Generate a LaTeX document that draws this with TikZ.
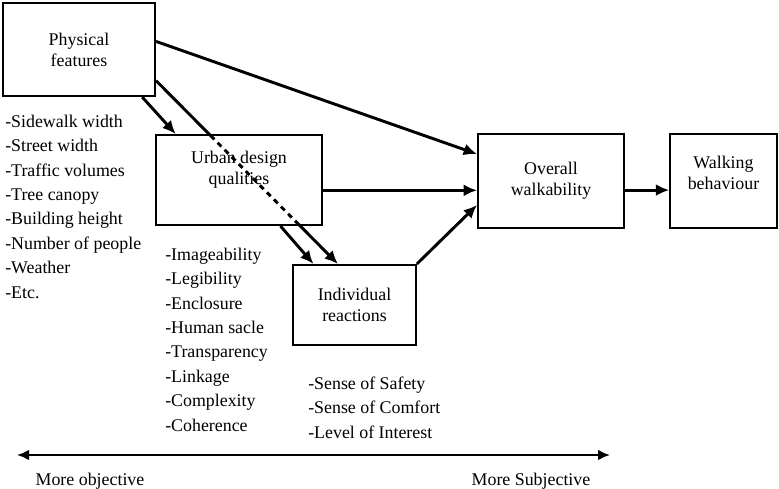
\documentclass[tikz,border=0pt]{standalone}
\usepackage{fontspec}
\setmainfont{Liberation Serif}
\usetikzlibrary{arrows.meta}
\tikzset{
  box/.style={draw,line width=1.5pt,align=center,inner sep=0pt,
    font=\fontsize{13.4}{15.8}\selectfont},
  items/.style={anchor=base west,align=left,inner sep=0pt,
    font=\fontsize{13.4}{18.3}\selectfont},
  flow/.style={line width=2.2pt,-{Latex[length=10pt,width=9pt]}},
  plain/.style={line width=2.2pt},
}
\begin{document}
\begin{tikzpicture}[x=0.75pt,y=-0.75pt]
\useasboundingbox (0,0) rectangle (779,489);
\node[box,minimum width=114pt,minimum height=70pt] at (79,49.5) (pf) {Physical\\features};
\node[box,minimum width=124.5pt,minimum height=67.5pt,text depth=18pt] at (239,180) (ud) {Urban design\\qualities};
\node[box,minimum width=92pt,minimum height=60pt] at (354.5,305) (ir) {Individual\\reactions};
\node[box,minimum width=109.5pt,minimum height=70.5pt] at (551,181) (ow) {Overall\\walkability};
\node[box,minimum width=80pt,minimum height=70.5pt,text depth=12pt] at (723.5,181) (wb) {Walking\\behaviour};
% lists under the boxes (anchored on their last line)
\node[items] at (5,298) (pflist) {-Sidewalk width\\-Street width\\-Traffic volumes\\-Tree canopy\\-Building height\\-Number of people\\-Weather\\-Etc.};
\node[items] at (165,431) (udlist) {-Imageability\\-Legibility\\-Enclosure\\-Human sacle\\-Transparency\\-Linkage\\-Complexity\\-Coherence};
\node[items] at (308,438) (irlist) {-Sense of Safety\\-Sense of Comfort\\-Level of Interest};
% arrows
\draw[flow] (pf.6) -- (ow.160);
\draw[flow] (pf.-37) -- (ud.144);
\path (pf.-22) -- (ir.112) coordinate[pos=0.3] (cut1) coordinate[pos=0.78] (cut2);
\draw[plain] (pf.-22) -- (cut1);
\draw[plain,dash pattern=on 4pt off 3.5pt] (cut1) -- (cut2);
\draw[flow] (cut2) -- (ir.112);
\draw[flow] (ud.-48) -- (ir.135);
\draw[flow] (ud.-7) -- (ud.-7 -| ow.west);
\draw[flow] (ir.north east) -- (ow.198);
\draw[flow] (ow.-7) -- (ow.-7 -| wb.west);
% scale
\coordinate (lft) at (17,455);
\coordinate (rgt) at (610,455);
\draw[line width=1.6pt,{Latex[length=9pt,width=8pt]}-{Latex[length=9pt,width=8pt]}] (lft) -- (rgt);
\node[anchor=base,inner sep=0pt,font=\fontsize{13.4}{16}\selectfont] at (90,485) (obj) {More objective};
\node[anchor=base,inner sep=0pt,font=\fontsize{13.4}{16}\selectfont] at (531,485) (subj) {More Subjective};
\end{tikzpicture}
\end{document}
